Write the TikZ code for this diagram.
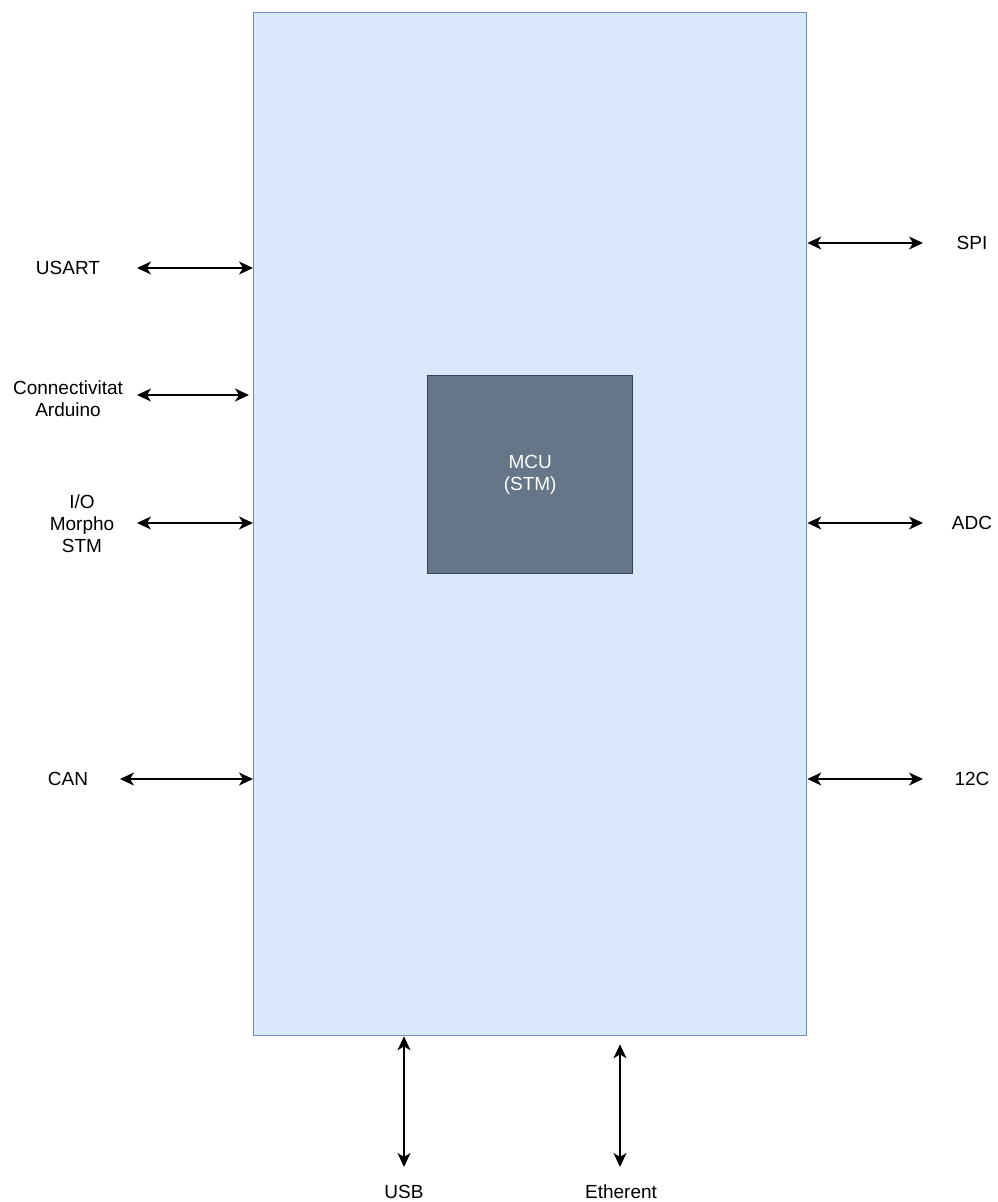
\documentclass[tikz,border=0pt]{standalone}
\usepackage{fontspec}
\setmainfont{Liberation Sans}
\usetikzlibrary{arrows.meta,calc}
\definecolor{boxfill}{HTML}{DAE8FC}
\definecolor{boxdraw}{HTML}{6C8EBF}
\definecolor{mcufill}{HTML}{647687}
\definecolor{mcudraw}{HTML}{314354}
\tikzset{
  x=1pt,y=1pt,
  lbl/.style={inner sep=0pt,align=center,font=\fontsize{19}{22}\selectfont,text=black},
  arr/.style={line width=1.6pt,{Stealth[length=14pt,width=13pt,inset=4pt]}-{Stealth[length=14pt,width=13pt,inset=4pt]}},
  mainbox/.style={draw=boxdraw,fill=boxfill,line width=1.3pt,inner sep=0pt},
  mcubox/.style={draw=mcudraw,fill=mcufill,line width=1.3pt,inner sep=0pt,align=center,text=white,font=\fontsize{19}{22}\selectfont},
}
\begin{document}
\begin{tikzpicture}
\useasboundingbox (0,0) rectangle (997,-1202);
% main board
\node[mainbox,minimum width=553pt,minimum height=1023pt,anchor=north west] (main) at (253,-12) {};
% MCU
\node[mcubox,minimum width=205pt,minimum height=198pt,anchor=north west] (mcu) at (427,-375) {MCU\\(STM)};
% left labels
\node[lbl] (usart) at (68,-268) {USART};
\node[lbl] (ard) at (68,-399) {Connectivitat\\Arduino};
\node[lbl] (io) at (82,-524) {I/O\\Morpho\\STM};
\node[lbl] (can) at (68,-779) {CAN};
% right labels
\node[lbl] (spi) at (972,-243) {SPI};
\node[lbl] (adc) at (972,-523) {ADC};
\node[lbl] (i2c) at (972,-779) {12C};
% bottom labels
\node[lbl] (usb) at (404,-1192) {USB};
\node[lbl] (eth) at (621,-1192) {Etherent};
% free ends
\coordinate (usartE) at (137,-268);
\coordinate (ardE) at (137,-395);
\coordinate (ioE) at (137,-523);
\coordinate (canE) at (120,-779);
\coordinate (spiE) at (923,-243);
\coordinate (adcE) at (923,-523);
\coordinate (i2cE) at (923,-779);
\coordinate (usbE) at (404,-1167);
\coordinate (ethE) at (620,-1167);
% connectors
\draw[arr] (usartE) -- (usartE -| main.west);
\draw[arr] (ardE) -- ($(ardE -| main.west)+(-4,0)$);
\draw[arr] (ioE) -- (ioE -| main.west);
\draw[arr] (canE) -- (canE -| main.west);
\draw[arr] (spiE -| main.east) -- (spiE);
\draw[arr] (adcE -| main.east) -- (adcE);
\draw[arr] (i2cE -| main.east) -- (i2cE);
\draw[arr] (usbE |- main.south) -- (usbE);
\draw[arr] ($(ethE |- main.south)+(0,-8)$) -- (ethE);
\end{tikzpicture}
\end{document}
